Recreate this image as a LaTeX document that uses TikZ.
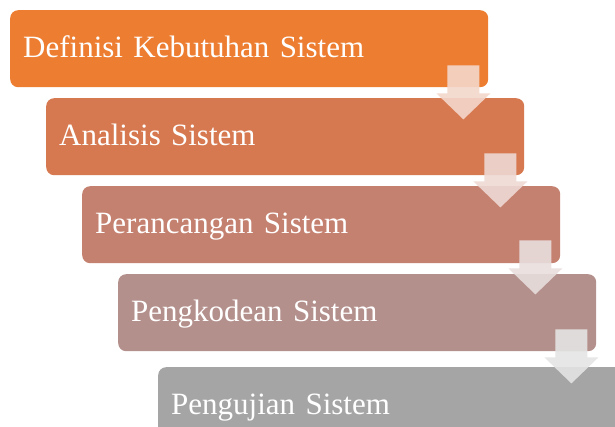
\documentclass[tikz,border=0pt]{standalone}
\usepackage{fontspec}
\setmainfont{Liberation Serif}
\usetikzlibrary{calc}

% step colours, orange fading to grey
\definecolor{stepA}{RGB}{237,125,49}
\definecolor{stepB}{RGB}{215,121,80}
\definecolor{stepC}{RGB}{197,129,112}
\definecolor{stepD}{RGB}{180,144,140}
\definecolor{stepE}{RGB}{165,165,165}

\tikzset{
  stepbox/.style={
    anchor=north west, rounded corners=8pt, draw=none,
    minimum width=478pt, minimum height=77pt,
    text width=452pt, inner xsep=13pt, inner ysep=0pt, align=left,
    text height=21pt, text depth=3pt,
    text=white, font=\fontsize{31}{36}\selectfont
  },
  % block arrow pointing down, its top centre at the pic origin
  steparrow/.pic={
    \fill[pic actions, fill opacity=0.9]
      (-16,0) -- (16,0) -- (16,-28) -- (27,-28) -- (0,-54)
      -- (-27,-28) -- (-16,-28) -- cycle;
  }
}

\begin{document}
\begin{tikzpicture}[x=1pt, y=1pt]
  \useasboundingbox (0,0) rectangle (615,-427);
  \clip (0,0) rectangle (615,-427);

  \node[stepbox, fill=stepA] (def) at (10,-10)  {Definisi Kebutuhan Sistem};
  \node[stepbox, fill=stepB] (ana) at (46,-98)  {Analisis Sistem};
  \node[stepbox, fill=stepC] (ran) at (82,-186) {Perancangan Sistem};
  \node[stepbox, fill=stepD] (kod) at (118,-274) {Pengkodean Sistem};
  \node[stepbox, fill=stepE, inner xsep=12pt] (uji) at (158,-367) {Pengujian Sistem};

  \pic[fill=stepB!30!white] at ($(def.south east)+(-25,22)$) {steparrow};
  \pic[fill=stepC!30!white] at ($(ana.south east)+(-24,22)$) {steparrow};
  \pic[fill=stepD!30!white] at ($(ran.south east)+(-25,23)$) {steparrow};
  \pic[fill=stepE!30!white] at ($(kod.south east)+(-25,22)$) {steparrow};
\end{tikzpicture}
\end{document}
